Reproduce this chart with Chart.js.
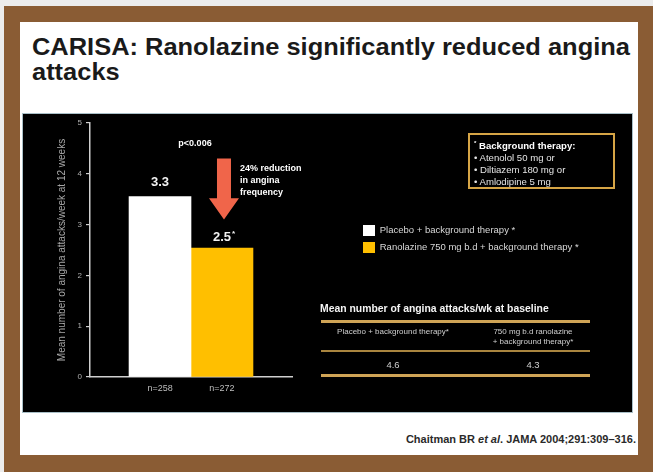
<!DOCTYPE html>
<html>
<head>
<meta charset="utf-8">
<script src="https://cdn.jsdelivr.net/npm/chart.js@4.4.1/dist/chart.umd.min.js"></script>
<style>
  body { margin: 0; width: 653px; height: 472px; background: #ececec; overflow: hidden; font-family: "Liberation Sans", Arial, sans-serif; }
  .abs { position: absolute; }
  #frame { left: 4px; top: 6px; width: 649px; height: 466px; background: #8a5c34; }
  #slide { left: 20px; top: 22px; width: 618px; height: 433px; background: #fff; }
  #title { left: 32px; top: 34px; font-size: 24px; line-height: 25px; font-weight: bold; color: #1a1a1a; white-space: nowrap; transform: scaleX(1.06); transform-origin: 0 0; }
  #panel { left: 22px; top: 113px; width: 611px; height: 300px; background: #000; border: 1px solid #a9bfc7; box-sizing: border-box; }
  #chartBox { left: 22px; top: 113px; width: 611px; height: 300px; }
  #therapy { left: 468px; top: 133px; width: 147px; height: 56px; border: 2px solid #d6a546; box-sizing: border-box; padding: 2px 0 0 4px; font-size: 9.6px; line-height: 12px; color: #e4e4e4; white-space: nowrap; }
  #therapy b { color: #fff; }
  #tblTitle { left: 320px; top: 303px; font-size: 10.4px; line-height: 12px; font-weight: bold; color: #f4f4f4; white-space: nowrap; }
  .rule { left: 321px; width: 269px; background: #cfa456; }
  .cell { width: 140px; text-align: center; color: #cfcfcf; white-space: nowrap; }
  #cite { right: 17px; top: 433px; font-size: 11px; line-height: 12px; font-weight: bold; color: #2a2a2a; white-space: nowrap; }
</style>
</head>
<body>
<div class="abs" id="frame"></div>
<div class="abs" id="slide"></div>
<div class="abs" id="title">CARISA: Ranolazine significantly reduced angina<br>attacks</div>
<div class="abs" id="panel"></div>
<div class="abs" id="chartBox"><canvas id="chart-carisa"></canvas></div>
<div class="abs" id="therapy"></div>
<div class="abs" id="tblTitle">Mean number of angina attacks/wk at baseline</div>
<div class="abs" id="cite">Chaitman BR <i>et al</i>. JAMA 2004;291:309–316.</div>

<script>
// data
const groups = ['n=258', 'n=272'];
const seriesNames = ['Placebo + background therapy *', 'Ranolazine 750 mg b.d + background therapy *'];
const barValues = [3.55, 2.54];
const valueLabels = ['3.3', '2.5*'];
const barColors = ['#ffffff', '#ffbf00'];
const yTicks = [0, 1, 2, 3, 4, 5];
const pValue = 'p<0.006';
const reductionNote = ['24% reduction', 'in angina', 'frequency'];
const therapyHead = 'Background therapy:';
const therapyItems = ['Atenolol 50 mg or', 'Diltiazem 180 mg or', 'Amlodipine 5 mg'];
const baselineHeads = [['Placebo + background therapy*'], ['750 mg b.d ranolazine', '+ background therapy*']];
const baselineValues = ['4.6', '4.3'];

const FONT = '"Liberation Sans", Arial, sans-serif';

// background therapy box
document.getElementById('therapy').innerHTML =
  '<b><sup style="font-size:6px">*</sup> ' + therapyHead + '</b><br>' +
  therapyItems.map(t => '• ' + t).join('<br>');

// baseline table
const addDiv = (cls, css, html) => {
  const d = document.createElement('div');
  d.className = 'abs ' + cls;
  d.style.cssText = css;
  d.innerHTML = html || '';
  document.body.appendChild(d);
};
addDiv('rule', 'top:320px;height:3px;');
addDiv('rule', 'top:350px;height:2px;background:#a9853f;');
addDiv('rule', 'top:374px;height:3px;');
const colCenters = [393, 533];
baselineHeads.forEach((lines, i) => {
  addDiv('cell', 'left:' + (colCenters[i] - 70) + 'px;top:327px;font-size:8px;line-height:10px;', lines.join('<br>'));
  addDiv('cell', 'left:' + (colCenters[i] - 70) + 'px;top:359px;font-size:9.5px;line-height:12px;', baselineValues[i]);
});

// labels, p value and arrow drawn over the bars
const notes = {
  id: 'notes',
  afterDatasetsDraw(chart) {
    const ctx = chart.ctx;
    const x = chart.scales.x;
    const y = chart.scales.y;
    ctx.save();
    ctx.textBaseline = 'middle';
    ctx.fillStyle = '#f2f2f2';
    chart.data.datasets.forEach((ds, i) => {
      const bar = chart.getDatasetMeta(i).data[0];
      let txt = valueLabels[i];
      const star = txt.endsWith('*');
      if (star) txt = txt.slice(0, -1);
      ctx.font = 'bold 13px ' + FONT;
      ctx.textAlign = 'center';
      const ty = bar.y - (star ? 11 : 14);
      ctx.fillText(txt, bar.x, ty);
      if (star) {
        const w = ctx.measureText(txt).width;
        ctx.font = 'bold 8px ' + FONT;
        ctx.textAlign = 'left';
        ctx.fillText('*', bar.x + w / 2 + 1, ty - 3);
      }
    });

    ctx.font = 'bold 9px ' + FONT;
    ctx.textAlign = 'center';
    ctx.fillStyle = '#ffffff';
    ctx.fillText(pValue, x.getPixelForValue(0.5) + 4, y.getPixelForValue(4.6));

    // arrow
    const ax = x.getPixelForValue(1) + 2;
    const top = y.getPixelForValue(4.3);
    const neck = y.getPixelForValue(3.52);
    const tip = y.getPixelForValue(3.1);
    ctx.fillStyle = '#f0654a';
    ctx.beginPath();
    ctx.moveTo(ax - 7, top);
    ctx.lineTo(ax + 7, top);
    ctx.lineTo(ax + 7, neck);
    ctx.lineTo(ax + 15, neck);
    ctx.lineTo(ax, tip);
    ctx.lineTo(ax - 15, neck);
    ctx.lineTo(ax - 7, neck);
    ctx.closePath();
    ctx.fill();

    ctx.fillStyle = '#ffffff';
    ctx.textAlign = 'left';
    reductionNote.forEach((t, k) => {
      ctx.fillText(t, ax + 16, top + 10 + k * 12);
    });
    ctx.restore();
  }
};

// put the legend where it sits on the slide
const legendSpot = {
  id: 'legendSpot',
  beforeInit(chart) {
    const lg = chart.legend;
    const fit = lg.fit;
    lg.fit = function () {
      fit.call(this);
      this.width = 341;
    };
  },
  afterLayout(chart) {
    chart.legend.left = 335;
    chart.legend.top = 106;
  }
};

const ctx = document.getElementById('chart-carisa').getContext('2d');
new Chart(ctx, {
  type: 'bar',
  data: {
    datasets: seriesNames.map((name, i) => ({
      label: name,
      data: [{ x: i, y: barValues[i] }],
      backgroundColor: barColors[i],
      borderWidth: 0,
      grouped: false,
      barPercentage: 1,
      categoryPercentage: 1
    }))
  },
  options: {
    responsive: true,
    maintainAspectRatio: false,
    animation: false,
    layout: { padding: { top: 10, left: 0, right: 0, bottom: 0 } },
    plugins: {
      legend: {
        position: 'right',
        align: 'start',
        labels: {
          boxWidth: 12,
          boxHeight: 11,
          padding: 6,
          color: '#d8d8d8',
          font: { size: 9.5, family: FONT }
        }
      },
      tooltip: { enabled: false }
    },
    scales: {
      x: {
        type: 'linear',
        offset: false,
        min: -1.13,
        max: 2.13,
        bounds: 'data',
        afterBuildTicks: (scale) => { scale.ticks = groups.map((g, i) => ({ value: i })); },
        afterFit: (scale) => { scale.height = 36; },
        grid: { display: true, offset: false, drawOnChartArea: false, drawTicks: false },
        border: { color: '#cfcfcf', width: 1.5 },
        ticks: {
          padding: 6,
          color: '#bdbdbd',
          font: { size: 9, family: FONT },
          callback: (v) => groups[v]
        }
      },
      y: {
        min: yTicks[0],
        max: yTicks[yTicks.length - 1],
        afterFit: (scale) => { scale.width = 68; },
        grid: { drawOnChartArea: false, drawTicks: true, tickLength: 4, color: '#cfcfcf', lineWidth: 1.2 },
        border: { color: '#cfcfcf', width: 1.5 },
        ticks: {
          stepSize: 1,
          padding: 4,
          color: '#b0b0b0',
          font: { size: 8, family: FONT }
        },
        title: {
          display: true,
          text: 'Mean number of angina attacks/week at 12 weeks',
          color: '#a8a8a8',
          padding: { top: 34, bottom: 0 },
          font: { size: 10, family: FONT }
        }
      }
    }
  },
  plugins: [notes, legendSpot]
});
</script>
</body>
</html>
